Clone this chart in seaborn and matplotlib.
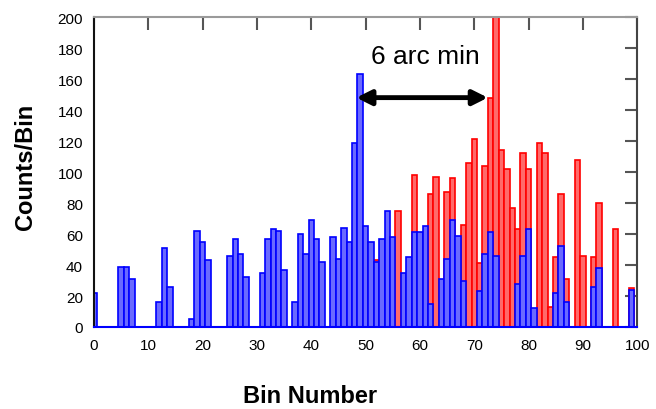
import numpy as np
import pandas as pd
import matplotlib
matplotlib.use("Agg")
import matplotlib.pyplot as plt
import matplotlib.patheffects as pe
import seaborn as sns

# Histogram bins (0..99) and the counts in each non-empty bin
n_bins = 100
bin_numbers = list(range(n_bins))

blue_bins = [0, 5, 6, 7, 12, 13, 14, 18, 19, 20, 21, 25, 26, 27, 28,
             31, 32, 33, 34, 35, 37, 38, 39, 40, 41, 42,
             44, 45, 46, 47, 48, 49, 50, 51, 52, 53, 54, 55,
             57, 58, 59, 60, 61, 62, 64, 65, 66, 67, 68,
             71, 72, 73, 74, 78, 79, 80, 81, 85, 86, 87, 92, 93, 99]
blue_counts = [22, 39, 39, 31, 16, 51, 26, 5, 62, 55, 43, 46, 57, 47, 32,
               35, 57, 63, 62, 37, 16, 60, 47, 69, 57, 42,
               58, 44, 64, 55, 119, 163, 65, 55, 42, 57, 75, 58,
               35, 45, 61, 61, 65, 15, 31, 44, 69, 59, 30,
               23, 47, 61, 46, 28, 46, 63, 12, 22, 52, 16, 26, 38, 24]

red_bins = [52, 56, 59, 62, 63, 65, 66, 68, 69, 70, 71, 72, 73, 74, 75,
            76, 77, 78, 79, 80, 82, 83, 84, 85, 86, 87, 89, 90, 92, 93,
            96, 99]
red_counts = [43, 75, 98, 86, 97, 87, 96, 66, 106, 121, 41, 104, 148, 205, 114,
              102, 77, 63, 112, 102, 119, 112, 13, 45, 86, 31, 108, 46, 45, 80,
              63, 25]

x_ticks = list(range(0, 101, 10))
y_ticks = list(range(0, 201, 20))

blue_full = np.zeros(n_bins)
blue_full[blue_bins] = blue_counts
red_full = np.zeros(n_bins)
red_full[red_bins] = red_counts
df = pd.DataFrame({"bin": bin_numbers, "blue": blue_full, "red": red_full})

sns.set_style("white")
plt.rcParams["font.family"] = ["Liberation Sans", "DejaVu Sans"]
plt.rcParams["text.color"] = "black"
plt.rcParams["axes.labelcolor"] = "black"

fig = plt.figure(figsize=(6.56, 4.10), dpi=100)
ax = fig.add_axes([0.1433, 0.2, 0.828, 0.756])

sns.barplot(data=df, x="bin", y="red", color="#ff6a6a", saturation=1,
            width=1.0, edgecolor="#ff0000", linewidth=1.2, ax=ax)
sns.barplot(data=df, x="bin", y="blue", color="#6a6aff", saturation=1,
            width=1.0, edgecolor="#0000ff", linewidth=1.2, ax=ax)

ax.set_xlim(0, 100)
ax.set_ylim(0, 200)
ax.set_xticks(x_ticks)
ax.set_xticklabels([str(t) for t in x_ticks])
ax.set_yticks(y_ticks)
ax.set_yticklabels([str(t) for t in y_ticks])

ax.tick_params(direction="in", length=9, width=1.5, color="#555555",
               labelcolor="black", top=True, right=True, labelsize=11, pad=8)

for side, col in [("left", "#111111"), ("top", "#9a9a9a"),
                  ("right", "#444444"), ("bottom", "#0000ff")]:
    ax.spines[side].set_visible(True)
    ax.spines[side].set_color(col)
    ax.spines[side].set_linewidth(1.5)

ax.set_xlabel("Bin Number", fontsize=17, fontweight="bold", color="black")
ax.xaxis.set_label_coords(0.397, -0.185)
ax.set_ylabel("Counts/Bin", fontsize=17, fontweight="bold", color="black")
ax.yaxis.set_label_coords(-0.105, 0.52)

# Separation between the two peaks
ax.annotate("", xy=(48.3, 148), xytext=(72.5, 148),
            arrowprops=dict(arrowstyle="<|-|>", color="black", lw=3.5,
                            mutation_scale=22, shrinkA=0, shrinkB=0,
                            path_effects=[pe.withSimplePatchShadow(offset=(0, -2),
                                                                   shadow_rgbFace="#777777",
                                                                   alpha=0.7)]))
ax.text(61, 175, "6 arc min", ha="center", va="center", fontsize=19, color="black")

fig.savefig("out.png", dpi=100)
